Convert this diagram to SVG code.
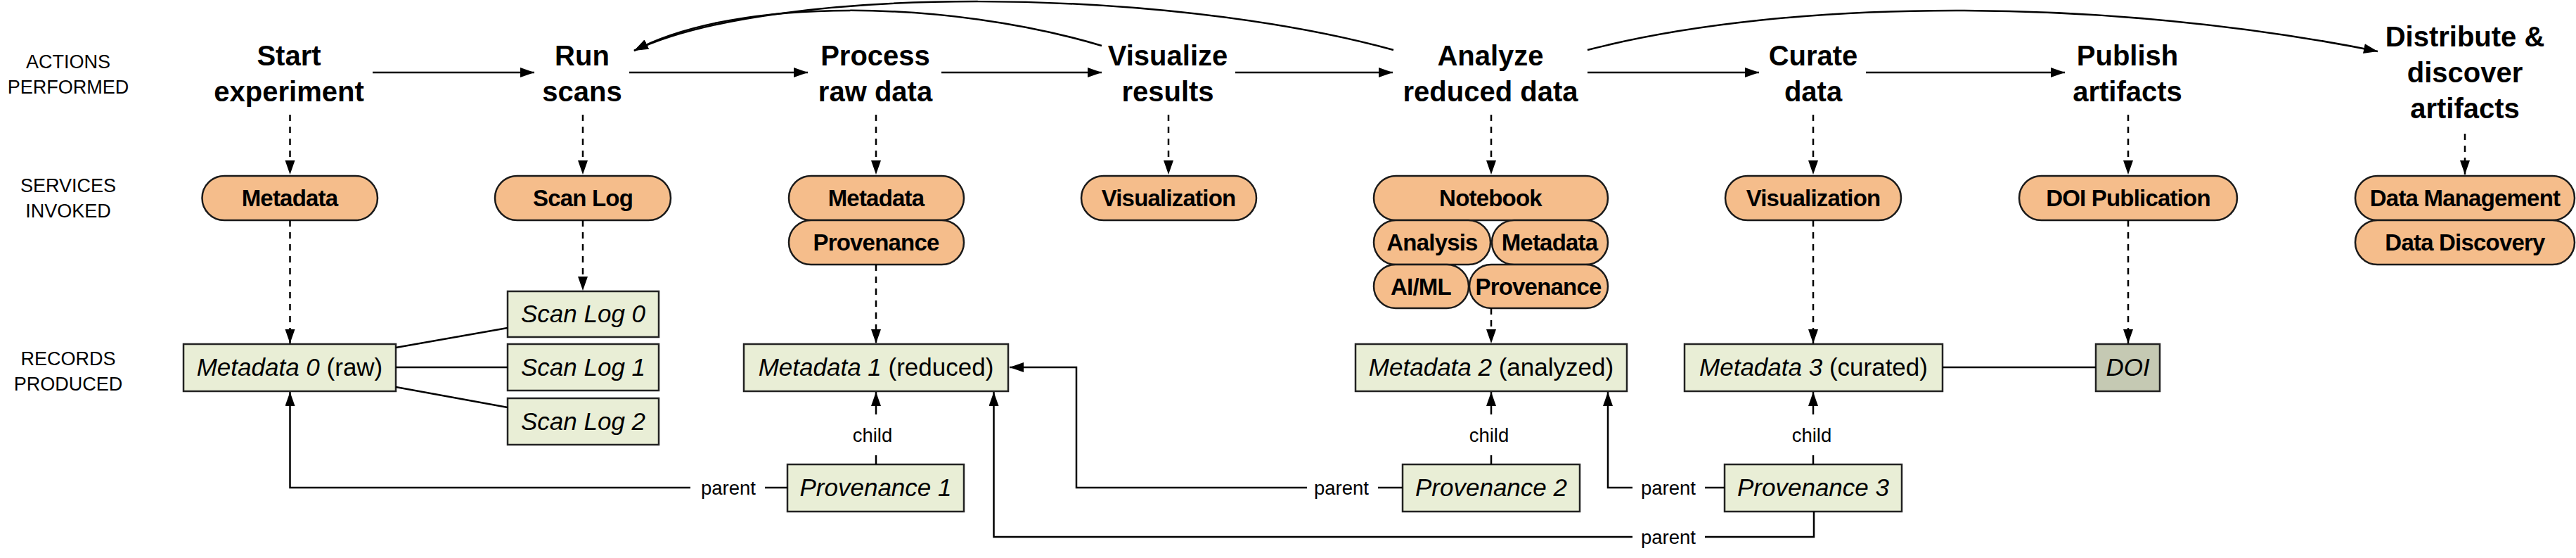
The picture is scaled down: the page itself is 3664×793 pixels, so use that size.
<svg xmlns="http://www.w3.org/2000/svg" width="3664" height="793" viewBox="0 0 3664 793">
<style>
text{font-family:"Liberation Sans",Arial,Helvetica,sans-serif;fill:#000;text-anchor:middle}
.act{font-size:40px;font-weight:bold}
.row{font-size:27px}
.pill rect{fill:#f5bd8b;stroke:#1a1a1a;stroke-width:2.5}
.pill text{font-size:33px;font-weight:bold;letter-spacing:-0.8px}
.rec rect{fill:#e9eed6;stroke:#222;stroke-width:2.5}
.rec text{font-size:35px}
.doi rect{fill:#c5c9b3}
.it{font-style:italic}
.lbl{font-size:27.5px}
.c{stroke:#000;stroke-width:2.5;fill:none}
.d{stroke-dasharray:9 8}
.a{marker-end:url(#ah)}
</style>
<defs>
<marker id="ah" markerUnits="userSpaceOnUse" markerWidth="22" markerHeight="16" refX="20" refY="7" orient="auto" viewBox="0 0 22 16">
<path d="M0,0 L20,7 L0,14 Z" fill="#000"/>
</marker>
</defs>
<rect width="3664" height="793" fill="#fff"/>

<g id="row-labels">
<text class="row" x="97" y="97">ACTIONS</text>
<text class="row" x="97" y="133">PERFORMED</text>
<text class="row" x="97" y="273">SERVICES</text>
<text class="row" x="97" y="309">INVOKED</text>
<text class="row" x="97" y="519">RECORDS</text>
<text class="row" x="97" y="555">PRODUCED</text>
</g>

<g id="actions">
<g id="act-start"><text class="act" x="411" y="93">Start</text><text class="act" x="411" y="144">experiment</text></g>
<g id="act-run"><text class="act" x="828" y="93">Run</text><text class="act" x="828" y="144">scans</text></g>
<g id="act-process"><text class="act" x="1245" y="93">Process</text><text class="act" x="1245" y="144">raw data</text></g>
<g id="act-visualize"><text class="act" x="1661" y="93">Visualize</text><text class="act" x="1661" y="144">results</text></g>
<g id="act-analyze"><text class="act" x="2120" y="93">Analyze</text><text class="act" x="2120" y="144">reduced data</text></g>
<g id="act-curate"><text class="act" x="2579" y="93">Curate</text><text class="act" x="2579" y="144">data</text></g>
<g id="act-publish"><text class="act" x="3026" y="93">Publish</text><text class="act" x="3026" y="144">artifacts</text></g>
<g id="act-distribute"><text class="act" x="3506" y="66">Distribute &amp;</text><text class="act" x="3506" y="117">discover</text><text class="act" x="3506" y="168">artifacts</text></g>
</g>

<g id="services">
<g id="svc-metadata0" class="pill"><rect x="287.5" y="250" width="249.5" height="63" rx="31.5"/><text x="412" y="293">Metadata</text></g>
<g id="svc-scanlog" class="pill"><rect x="704" y="250" width="250" height="63" rx="31.5"/><text x="829" y="293">Scan Log</text></g>
<g id="svc-metadata1" class="pill"><rect x="1122" y="250" width="249" height="63" rx="31.5"/><text x="1246" y="293">Metadata</text></g>
<g id="svc-provenance1" class="pill"><rect x="1122" y="313" width="249" height="63" rx="31.5"/><text x="1246" y="356">Provenance</text></g>
<g id="svc-visualization1" class="pill"><rect x="1538" y="250" width="249" height="63" rx="31.5"/><text x="1662" y="293">Visualization</text></g>
<g id="svc-notebook" class="pill"><rect x="1954" y="250" width="333" height="63" rx="31.5"/><text x="2120" y="293">Notebook</text></g>
<g id="svc-analysis" class="pill"><rect x="1954" y="313" width="166" height="63" rx="31.5"/><text x="2037" y="356">Analysis</text></g>
<g id="svc-metadata2" class="pill"><rect x="2122" y="313" width="165" height="63" rx="31.5"/><text x="2204" y="356">Metadata</text></g>
<g id="svc-aiml" class="pill"><rect x="1954" y="376" width="135" height="62" rx="31"/><text x="2021" y="419">AI/ML</text></g>
<g id="svc-provenance2" class="pill"><rect x="2090" y="376" width="197" height="62" rx="31"/><text x="2188" y="419">Provenance</text></g>
<g id="svc-visualization2" class="pill"><rect x="2454" y="250" width="250" height="63" rx="31.5"/><text x="2579" y="293">Visualization</text></g>
<g id="svc-doi" class="pill"><rect x="2872" y="250" width="310" height="63" rx="31.5"/><text x="3027" y="293">DOI Publication</text></g>
<g id="svc-datamgmt" class="pill"><rect x="3350" y="250" width="312" height="63" rx="31.5"/><text x="3506" y="293">Data Management</text></g>
<g id="svc-datadisc" class="pill"><rect x="3350" y="313" width="312" height="63" rx="31.5"/><text x="3506" y="356">Data Discovery</text></g>
</g>

<g id="records">
<g id="rec-metadata0" class="rec"><rect x="261" y="489" width="302" height="67"/><text x="412" y="534"><tspan class="it">Metadata 0</tspan> (raw)</text></g>
<g id="rec-scanlog0" class="rec"><rect x="722" y="414" width="215" height="65"/><text class="it" x="829.5" y="458">Scan Log 0</text></g>
<g id="rec-scanlog1" class="rec"><rect x="722" y="489" width="215" height="66"/><text class="it" x="829.5" y="534">Scan Log 1</text></g>
<g id="rec-scanlog2" class="rec"><rect x="722" y="566" width="215" height="66"/><text class="it" x="829.5" y="611">Scan Log 2</text></g>
<g id="rec-metadata1" class="rec"><rect x="1058" y="489" width="376" height="67"/><text x="1246" y="534"><tspan class="it">Metadata 1</tspan> (reduced)</text></g>
<g id="rec-prov1" class="rec"><rect x="1120" y="660" width="251" height="67"/><text class="it" x="1245.5" y="705">Provenance 1</text></g>
<g id="rec-metadata2" class="rec"><rect x="1928" y="489" width="386" height="67"/><text x="2121" y="534"><tspan class="it">Metadata 2</tspan> (analyzed)</text></g>
<g id="rec-prov2" class="rec"><rect x="1995" y="660" width="252" height="67"/><text class="it" x="2121" y="705">Provenance 2</text></g>
<g id="rec-metadata3" class="rec"><rect x="2396" y="489" width="367" height="67"/><text x="2579.5" y="534"><tspan class="it">Metadata 3</tspan> (curated)</text></g>
<g id="rec-prov3" class="rec"><rect x="2453" y="660" width="252" height="67"/><text class="it" x="2579" y="705">Provenance 3</text></g>
<g id="rec-doi" class="rec doi"><rect x="2981" y="489" width="91" height="67"/><text class="it" x="3026.5" y="534">DOI</text></g>
</g>

<g id="connectors">
<line class="c a" x1="530" y1="103" x2="760" y2="103"/>
<line class="c a" x1="895" y1="103" x2="1149" y2="103"/>
<line class="c a" x1="1339" y1="103" x2="1567" y2="103"/>
<line class="c a" x1="1757" y1="103" x2="1981" y2="103"/>
<line class="c a" x1="2258" y1="103" x2="2502" y2="103"/>
<line class="c a" x1="2654" y1="103" x2="2937" y2="103"/>
<path class="c a" d="M1567,65 C1350,0 1050,-6 902,72"/>
<path class="c a" d="M1982,71 C1650,-20 1100,-22 902,72"/>
<path class="c a" d="M2258,71 C2550,-4 3000,-4 3382,73"/>
<line class="c d a" x1="412.5" y1="163" x2="412.5" y2="248"/>
<line class="c d a" x1="829" y1="163" x2="829" y2="248"/>
<line class="c d a" x1="1246" y1="163" x2="1246" y2="248"/>
<line class="c d a" x1="1662" y1="163" x2="1662" y2="248"/>
<line class="c d a" x1="2121" y1="163" x2="2121" y2="248"/>
<line class="c d a" x1="2579" y1="163" x2="2579" y2="248"/>
<line class="c d a" x1="3027" y1="163" x2="3027" y2="248"/>
<line class="c d a" x1="3506" y1="190" x2="3506" y2="248"/>
<line class="c d a" x1="412.5" y1="313" x2="412.5" y2="488"/>
<line class="c d a" x1="829" y1="313" x2="829" y2="413"/>
<line class="c d a" x1="1246" y1="376" x2="1246" y2="488"/>
<line class="c d a" x1="2121" y1="438" x2="2121" y2="488"/>
<line class="c d a" x1="2579" y1="313" x2="2579" y2="488"/>
<line class="c d a" x1="3027" y1="313" x2="3027" y2="488"/>
<line class="c" x1="563" y1="494" x2="722" y2="466"/>
<line class="c" x1="563" y1="522" x2="722" y2="522"/>
<line class="c" x1="563" y1="550" x2="722" y2="579"/>
<line class="c" x1="2763" y1="522" x2="2981" y2="522"/>
<line class="c" x1="1246" y1="660" x2="1246" y2="647"/>
<line class="c a" x1="1246" y1="589" x2="1246" y2="557"/>
<line class="c" x1="2121" y1="660" x2="2121" y2="647"/>
<line class="c a" x1="2121" y1="589" x2="2121" y2="557"/>
<line class="c" x1="2579" y1="660" x2="2579" y2="647"/>
<line class="c a" x1="2579" y1="589" x2="2579" y2="557"/>
<text class="lbl" x="1241" y="628">child</text>
<text class="lbl" x="2118" y="628">child</text>
<text class="lbl" x="2577" y="628">child</text>
<line class="c" x1="1120" y1="693" x2="1088" y2="693"/>
<polyline class="c a" points="982,693 412.5,693 412.5,557"/>
<text class="lbl" x="1036" y="703">parent</text>
<line class="c" x1="1995" y1="693" x2="1960" y2="693"/>
<polyline class="c a" points="1859,693 1531,693 1531,522 1436,522"/>
<text class="lbl" x="1908" y="703">parent</text>
<line class="c" x1="2453" y1="693" x2="2425" y2="693"/>
<polyline class="c a" points="2322,693 2287,693 2287,557"/>
<text class="lbl" x="2373" y="703">parent</text>
<polyline class="c" points="2580,727 2580,763 2425,763"/>
<polyline class="c a" points="2322,763 1413.5,763 1413.5,557"/>
<text class="lbl" x="2373" y="773">parent</text>
</g>
</svg>
